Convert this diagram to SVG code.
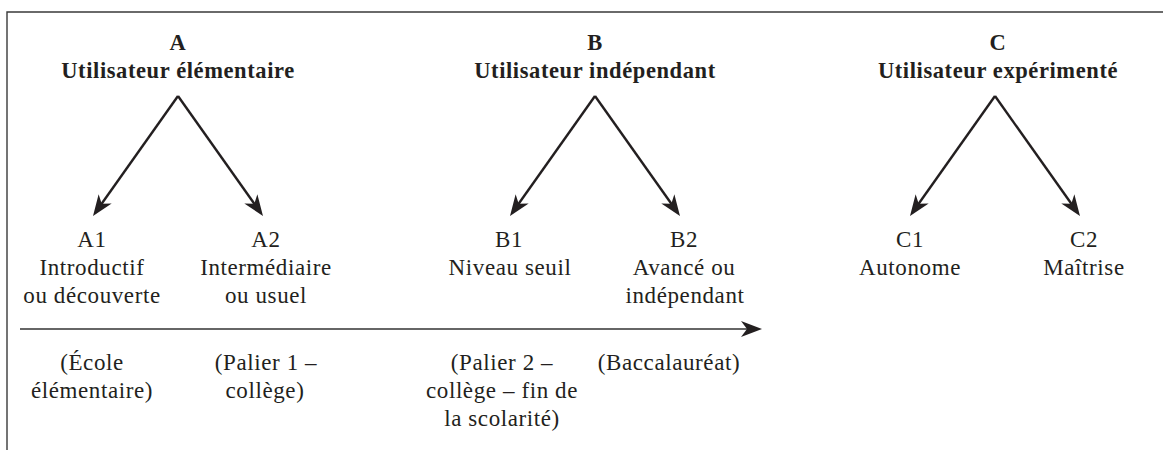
<svg xmlns="http://www.w3.org/2000/svg" width="1163" height="450" viewBox="0 0 1163 450">
<style>
text{font-family:"Liberation Serif","Times New Roman",serif;fill:#231f20;text-anchor:middle}
.t{font-size:22.5px;font-weight:bold;letter-spacing:0.6px}
.l{font-size:23px;letter-spacing:0.6px}
.frame{fill:none;stroke:#3a3a3a;stroke-width:1.4}
.arr{fill:none;stroke:#231f20;stroke-width:2.4}
.axis{fill:none;stroke:#333;stroke-width:1.6}
</style>
<defs>
<marker id="ah" markerUnits="userSpaceOnUse" viewBox="-22 -10 24 20" markerWidth="24" markerHeight="20" refX="-10" refY="0" orient="auto">
<path d="M0,0 L-21,-8 L-15,0 L-21,8 Z" fill="#231f20"/>
</marker>
</defs>
<rect width="1163" height="450" fill="#fff"/>
<path class="frame" d="M7,450 V12 H1163"/>
<g id="A">
<text class="t" x="178" y="50">A</text>
<text class="t" x="178" y="78">Utilisateur élémentaire</text>
</g>
<g id="B">
<text class="t" x="595" y="50">B</text>
<text class="t" x="595" y="78">Utilisateur indépendant</text>
</g>
<g id="C">
<text class="t" x="998" y="50">C</text>
<text class="t" x="998" y="78">Utilisateur expérimenté</text>
</g>
<g id="A1">
<text class="l" x="92" y="247">A1</text>
<text class="l" x="92" y="275">Introductif</text>
<text class="l" x="92" y="303">ou découverte</text>
</g>
<g id="A2">
<text class="l" x="266" y="247">A2</text>
<text class="l" x="266" y="275">Intermédiaire</text>
<text class="l" x="266" y="303">ou usuel</text>
</g>
<g id="B1">
<text class="l" x="509" y="247">B1</text>
<text class="l" x="510" y="275">Niveau seuil</text>
</g>
<g id="B2">
<text class="l" x="684" y="247">B2</text>
<text class="l" x="684" y="275">Avancé ou</text>
<text class="l" x="685" y="303">indépendant</text>
</g>
<g id="C1">
<text class="l" x="910" y="247">C1</text>
<text class="l" x="910" y="275">Autonome</text>
</g>
<g id="C2">
<text class="l" x="1084" y="247">C2</text>
<text class="l" x="1084" y="275">Maîtrise</text>
</g>
<g id="school-A1">
<text class="l" x="92" y="370">(École</text>
<text class="l" x="92" y="398">élémentaire)</text>
</g>
<g id="school-A2">
<text class="l" x="266" y="370">(Palier 1 –</text>
<text class="l" x="265" y="398">collège)</text>
</g>
<g id="school-B1">
<text class="l" x="502" y="370">(Palier 2 –</text>
<text class="l" x="502" y="398">collège – fin de</text>
<text class="l" x="502" y="426">la scolarité)</text>
</g>
<g id="school-B2">
<text class="l" x="669" y="370">(Baccalauréat)</text>
</g>
<g id="connectors">
<line class="arr" x1="178" y1="96" x2="98.8" y2="207.8" marker-end="url(#ah)"/>
<line class="arr" x1="178" y1="96" x2="257.2" y2="207.8" marker-end="url(#ah)"/>
<line class="arr" x1="595" y1="96" x2="515.8" y2="207.8" marker-end="url(#ah)"/>
<line class="arr" x1="595" y1="96" x2="674.2" y2="207.8" marker-end="url(#ah)"/>
<line class="arr" x1="995" y1="96" x2="915.8" y2="207.8" marker-end="url(#ah)"/>
<line class="arr" x1="995" y1="96" x2="1074.2" y2="207.8" marker-end="url(#ah)"/>
<line class="axis" x1="20" y1="329" x2="752" y2="329" marker-end="url(#ah)"/>
</g>
</svg>
